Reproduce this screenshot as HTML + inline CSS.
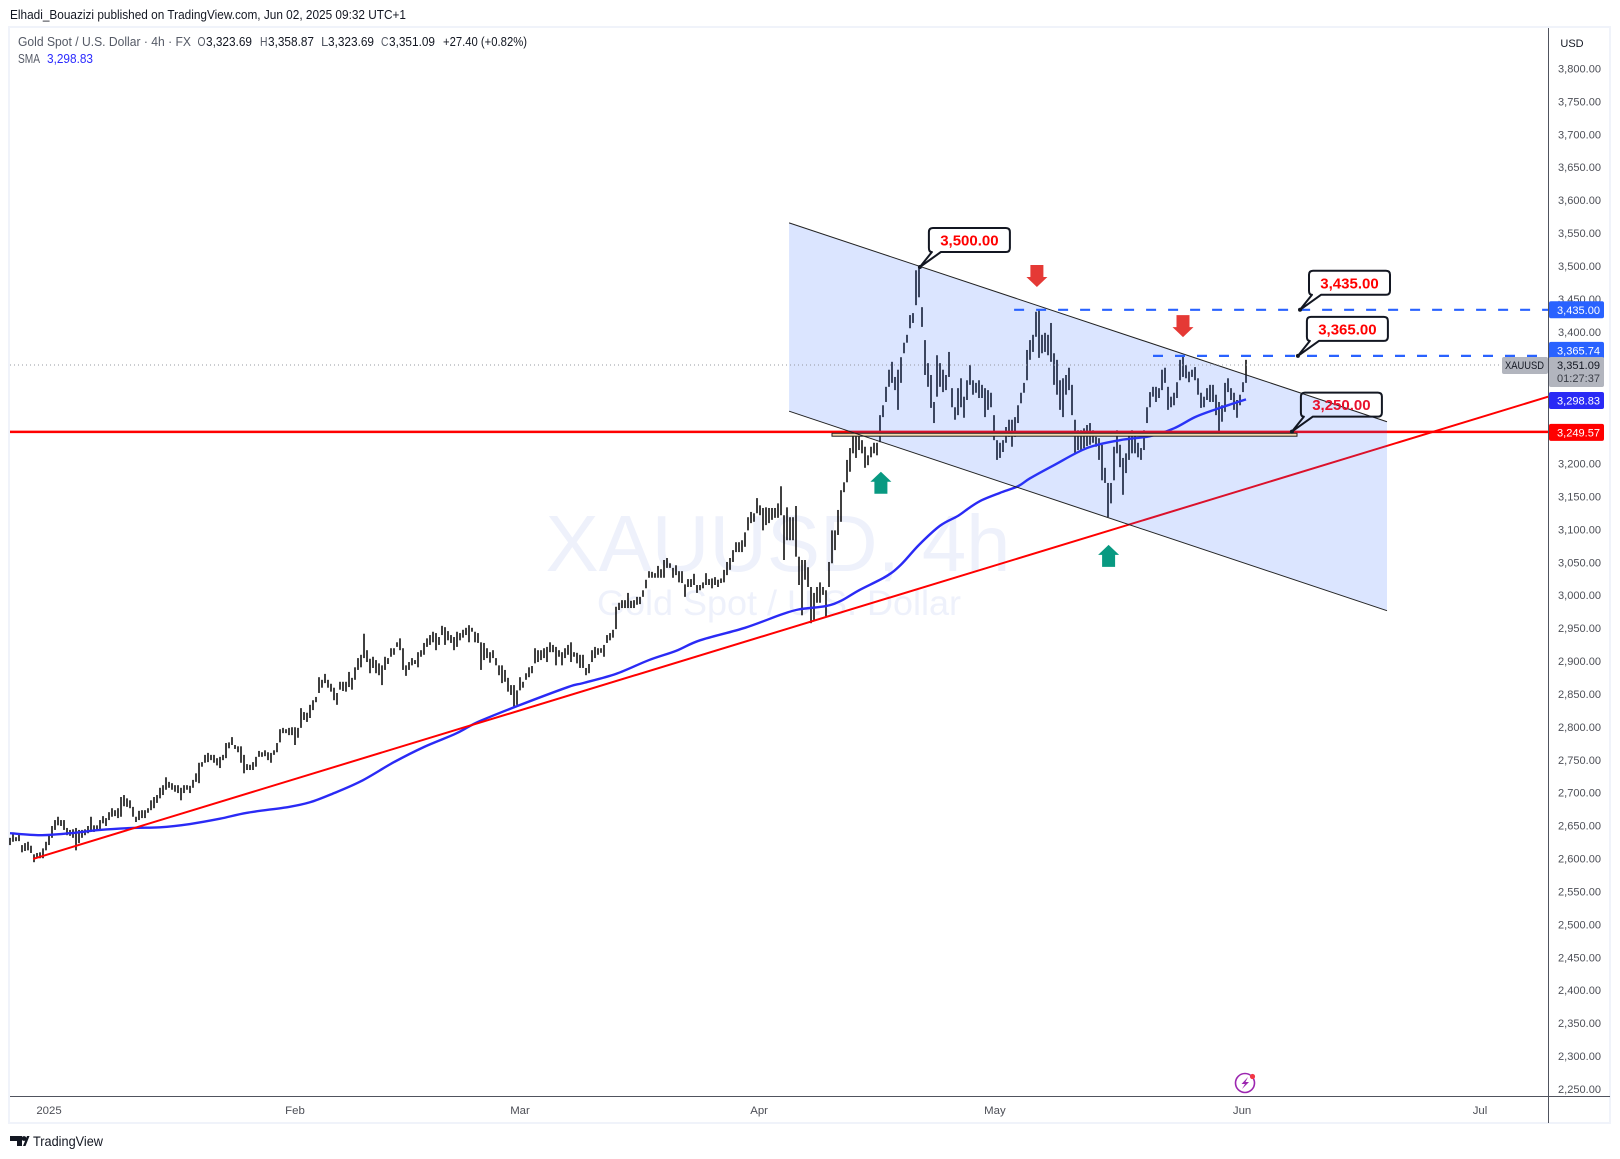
<!DOCTYPE html>
<html lang="en">
<head>
<meta charset="utf-8">
<title>XAUUSD 4h chart</title>
<style>
html,body{margin:0;padding:0;background:#fff;width:1620px;height:1159px;overflow:hidden}
svg{display:block;font-family:"Liberation Sans",Arial,sans-serif}
</style>
</head>
<body>
<svg id="chart" xmlns="http://www.w3.org/2000/svg" width="1620" height="1159" viewBox="0 0 1620 1159">
  <rect x="0" y="0" width="1620" height="1159" fill="#ffffff"/>
  <rect x="9" y="27" width="1601" height="1096" fill="#ffffff" stroke="#f0f3fa" stroke-width="2"/>
  <text x="10" y="19" font-size="13" fill="#131722" textLength="396" lengthAdjust="spacingAndGlyphs">Elhadi_Bouazizi published on TradingView.com, Jun 02, 2025 09:32 UTC+1</text>
  <text x="778" y="571" font-size="80" fill="#eef1fb" text-anchor="middle" textLength="465" lengthAdjust="spacingAndGlyphs">XAUUSD, 4h</text>
  <text x="779" y="615" font-size="35" fill="#eef1fb" text-anchor="middle" textLength="364" lengthAdjust="spacingAndGlyphs">Gold Spot / U.S. Dollar</text>
  <g id="bars"></g>
  <g id="overlays"></g>
  <g id="annotations"></g>
  <line x1="10" y1="1096.5" x2="1610" y2="1096.5" stroke="#50535e" stroke-width="1"/>
  <line x1="1548.5" y1="28" x2="1548.5" y2="1123" stroke="#50535e" stroke-width="1"/>
  <g id="axes"></g>
  <g id="tags"></g>
  <g font-size="13">
    <text x="18" y="46" fill="#555a66" textLength="173" lengthAdjust="spacingAndGlyphs">Gold Spot / U.S. Dollar · 4h · FX</text>
    <text x="197.5" y="46" fill="#555a66" textLength="8" lengthAdjust="spacingAndGlyphs">O</text>
    <text x="206" y="46" fill="#131722" textLength="46" lengthAdjust="spacingAndGlyphs">3,323.69</text>
    <text x="260" y="46" fill="#555a66" textLength="7.5" lengthAdjust="spacingAndGlyphs">H</text>
    <text x="268" y="46" fill="#131722" textLength="46" lengthAdjust="spacingAndGlyphs">3,358.87</text>
    <text x="321" y="46" fill="#555a66">L</text>
    <text x="328" y="46" fill="#131722" textLength="46" lengthAdjust="spacingAndGlyphs">3,323.69</text>
    <text x="381" y="46" fill="#555a66" textLength="7.5" lengthAdjust="spacingAndGlyphs">C</text>
    <text x="389" y="46" fill="#131722" textLength="46" lengthAdjust="spacingAndGlyphs">3,351.09</text>
    <text x="443" y="46" fill="#131722" textLength="84" lengthAdjust="spacingAndGlyphs">+27.40 (+0.82%)</text>
    <text x="18" y="63" fill="#555a66" textLength="22" lengthAdjust="spacingAndGlyphs">SMA</text>
    <text x="47" y="63" fill="#2a2aff" textLength="46" lengthAdjust="spacingAndGlyphs">3,298.83</text>
  </g>
  <text x="1572" y="47" font-size="11" fill="#131722" text-anchor="middle">USD</text>
  <g>
    <circle cx="1245" cy="1083" r="9.5" fill="none" stroke="#9c27b0" stroke-width="1.6"/>
    <polygon points="1248,1077 1241.5,1084 1245,1084 1242,1089 1249,1082 1245.5,1082" fill="#9c27b0"/>
    <circle cx="1252.5" cy="1076.5" r="2.6" fill="#f23645"/>
  </g>
  <g>
    <polygon points="10,1136 22,1136 22,1146 17,1146 17,1141 10,1141" fill="#131722"/>
    <circle cx="24" cy="1138.5" r="2.4" fill="#131722"/>
    <polygon points="23,1146 27,1136 29.5,1136 25.5,1146" fill="#131722"/>
    <text x="33" y="1146" font-size="14" fill="#131722" textLength="70" lengthAdjust="spacingAndGlyphs">TradingView</text>
  </g>
</svg>
<script>
const barHighs = [
2633,2639,2634,2639,2622,2625,2627,2621,2608,2610,2611,2617,2627,2636,2651,2660,2665,2660,2660,2648,
2645,2646,2648,2645,2645,2646,2651,2665,2652,2652,2660,2666,2663,2672,2678,2675,2678,2695,2698,2693,
2690,2680,2665,2674,2675,2675,2678,2690,2695,2698,2709,2713,2725,2718,2716,2713,2713,2709,2713,2713,
2712,2721,2731,2747,2748,2759,2762,2759,2759,2754,2756,2759,2777,2778,2786,2774,2772,2772,2759,2745,
2744,2748,2756,2765,2763,2766,2763,2762,2766,2777,2798,2800,2798,2800,2801,2801,2800,2830,2824,2823,
2835,2842,2847,2877,2873,2882,2873,2867,2861,2853,2870,2870,2870,2885,2876,2892,2906,2911,2943,2918,
2905,2908,2903,2898,2895,2908,2906,2921,2921,2930,2936,2921,2895,2900,2906,2903,2915,2918,2929,2936,
2941,2946,2944,2938,2955,2953,2947,2941,2938,2946,2944,2949,2952,2956,2952,2946,2944,2930,2929,2921,
2915,2918,2906,2895,2895,2888,2876,2865,2865,2857,2877,2870,2883,2892,2894,2921,2918,2918,2921,2923,
2930,2926,2923,2918,2915,2921,2926,2930,2915,2914,2911,2911,2891,2897,2918,2923,2921,2921,2926,2941,
2944,2949,2984,2990,2994,2994,3005,2993,2994,2999,2999,3009,3025,3038,3037,3035,3046,3041,3055,3058,
3050,3043,3047,3038,3038,3018,3026,3026,3034,3017,3017,3021,3035,3026,3027,3029,3025,3027,3040,3052,
3058,3070,3082,3082,3085,3097,3120,3128,3126,3149,3138,3134,3135,3134,3134,3134,3141,3167,3123,3135,
3120,3120,3137,3060,3055,3055,3044,3014,3005,3014,3021,3014,3009,3052,3100,3100,3131,3161,3173,3207,
3225,3248,3248,3245,3237,3227,3214,3227,3233,3233,3275,3290,3318,3344,3356,3333,3344,3363,3385,3397,
3427,3430,3495,3500,3439,3389,3354,3336,3295,3366,3354,3344,3336,3371,3316,3287,3316,3331,3303,3328,
3351,3328,3324,3328,3321,3316,3313,3309,3275,3237,3233,3237,3257,3268,3268,3272,3290,3309,3324,3374,
3389,3397,3432,3435,3397,3400,3397,3415,3369,3359,3328,3331,3336,3347,3321,3268,3252,3252,3255,3260,
3263,3252,3242,3240,3230,3195,3172,3172,3227,3252,3230,3210,3217,3245,3252,3245,3233,3225,3252,3287,
3310,3318,3318,3316,3344,3347,3318,3303,3309,3325,3359,3366,3351,3341,3344,3348,3331,3309,3303,3316,
3321,3321,3306,3295,3290,3324,3331,3316,3309,3298,3306,3325,3359
];
const barLows = [
2622,2627,2628,2628,2611,2613,2614,2610,2596,2602,2602,2602,2614,2622,2633,2645,2652,2651,2645,2637,
2636,2633,2614,2625,2633,2637,2640,2642,2642,2645,2645,2655,2651,2660,2665,2666,2663,2665,2681,2680,
2678,2665,2657,2660,2663,2663,2671,2675,2678,2686,2693,2698,2706,2709,2706,2703,2701,2690,2701,2706,
2701,2709,2718,2716,2741,2747,2748,2751,2747,2743,2739,2751,2754,2769,2774,2768,2763,2747,2731,2736,
2736,2736,2741,2756,2756,2757,2751,2747,2759,2763,2778,2792,2792,2789,2789,2774,2785,2800,2812,2809,
2815,2827,2839,2853,2861,2868,2861,2855,2842,2835,2858,2856,2855,2862,2858,2873,2888,2892,2906,2900,
2883,2891,2883,2880,2865,2888,2897,2908,2911,2923,2918,2888,2879,2888,2895,2897,2892,2908,2911,2923,
2926,2930,2918,2926,2941,2926,2933,2929,2918,2923,2933,2937,2941,2930,2946,2930,2929,2888,2903,2906,
2899,2906,2895,2880,2868,2870,2855,2850,2832,2835,2857,2861,2873,2877,2883,2898,2900,2903,2906,2900,
2915,2915,2895,2908,2895,2906,2911,2900,2908,2898,2891,2891,2880,2883,2900,2906,2911,2914,2908,2929,
2933,2937,2950,2979,2982,2982,2982,2982,2982,2987,2988,2999,3012,3028,3028,3028,3028,3028,3028,3043,
3043,3028,3032,3021,3020,2999,3014,3014,3017,3005,3009,3012,3017,3017,3012,3017,3014,3020,3021,3032,
3040,3052,3067,3067,3067,3075,3100,3111,3113,3126,3123,3100,3108,3111,3116,3119,3119,3123,3055,3085,
3085,3085,3060,3017,2971,3025,3014,2959,2964,2990,2990,3002,2968,3014,3050,3070,3093,3113,3158,3173,
3189,3217,3210,3222,3217,3195,3199,3211,3217,3214,3234,3272,3295,3318,3324,3313,3283,3324,3369,3385,
3407,3415,3442,3454,3409,3336,3318,3286,3263,3303,3318,3310,3313,3333,3287,3268,3275,3287,3271,3298,
3321,3306,3309,3301,3301,3272,3283,3287,3237,3207,3210,3219,3233,3242,3227,3242,3263,3293,3309,3328,
3359,3371,3394,3362,3369,3371,3366,3356,3321,3306,3283,3272,3306,3313,3275,3217,3222,3222,3225,3228,
3230,3233,3227,3207,3176,3172,3120,3141,3176,3217,3196,3154,3187,3207,3217,3217,3211,3207,3222,3263,
3287,3303,3295,3301,3313,3324,3283,3287,3290,3301,3328,3333,3331,3325,3333,3328,3306,3286,3287,3298,
3295,3295,3275,3245,3265,3280,3310,3298,3283,3271,3290,3310,3324
];
const smaBars = [0,10,20,30,41,50,60,70,79,93,100,107,117,128,138,148,153,157,169,186,191,202,213,222,230,245,257,263,272,277,283,292,297,303,310,316,320,324,330,336,340,348,359,370,380,388,395,402,408,412];
const smaValues = [2640,2637,2640,2645,2648,2649,2654,2662,2671,2680,2687,2699,2719,2748,2771,2790,2802,2811,2833,2862,2868,2882,2903,2917,2933,2952,2972,2980,2985,2993,3009,3030,3048,3078,3107,3122,3135,3146,3157,3167,3179,3199,3225,3237,3243,3255,3272,3284,3293,3299];
const priceTicks = [3800,3750,3700,3650,3600,3550,3500,3450,3400,3350,3300,3250,3200,3150,3100,3050,3000,2950,2900,2850,2800,2750,2700,2650,2600,2550,2500,2450,2400,2350,2300,2250];
const monthLabels = ['2025','Feb','Mar','Apr','May','Jun','Jul'];
const monthBars = [13,95,170,249.7,328.3,410.7,490];
const channelBars = [259.7,459];
const channelUpper = [3567,3265];
const channelLower = [3281,2978];
const trendBars = [7.7,512.7];
const trendPrices = [2601,3303];
const supportPrice = 3249.57;
const currentPrice = 3351.09;
const dashedPrices = [3435,3365];
const dashedStartBars = [334.7,381];
const zoneBars = [274,429];
const zonePrices = [3247.5,3243];
const calloutPrices = [3500,3435,3365,3250];
const calloutBars = [303.3,430,429.3,427.3];
const downArrowBars = [342.3,391];
const downArrowPrices = [3503,3427];
const upArrowBars = [290.3,366.2];
const upArrowPrices = [3189,3078];
const tagPrices = [3435,3365.74,3298.83,3249.57];

const NS = 'http://www.w3.org/2000/svg';
function xOf(bar){ return 10 + 3*bar; }
function yOf(price){ return 267 + (3500-price)*0.6584; }
function fmt(v){ return v.toFixed(2).replace(/\B(?=(\d{3})+(?!\d))/,','); }
function make(parent, tag, attrs, text){
  const el = document.createElementNS(NS, tag);
  for (const k in attrs) el.setAttribute(k, attrs[k]);
  if (text !== undefined) el.textContent = text;
  parent.appendChild(el);
  return el;
}
function smoothPath(pts){
  let d = 'M' + pts[0][0] + ',' + pts[0][1];
  for (let i = 0; i < pts.length-1; i++){
    const p0 = pts[Math.max(i-1,0)], p1 = pts[i], p2 = pts[i+1], p3 = pts[Math.min(i+2,pts.length-1)];
    const c1x = p1[0]+(p2[0]-p0[0])/6, c1y = p1[1]+(p2[1]-p0[1])/6;
    const c2x = p2[0]-(p3[0]-p1[0])/6, c2y = p2[1]-(p3[1]-p1[1])/6;
    d += ' C' + c1x + ',' + c1y + ' ' + c2x + ',' + c2y + ' ' + p2[0] + ',' + p2[1];
  }
  return d;
}
const barsG = document.getElementById('bars');
const overlays = document.getElementById('overlays');
const annotations = document.getElementById('annotations');
const axes = document.getElementById('axes');
const tags = document.getElementById('tags');

barHighs.forEach(function(h,i){
  const el = make(barsG,'line',{x1:xOf(i),x2:xOf(i),y1:yOf(h),y2:yOf(barLows[i]),stroke:'#000','stroke-width':1.5});
  
  
});

const smaLine = make(overlays,'path',{d:smoothPath(smaBars.map(function(b,i){return [xOf(b),yOf(smaValues[i])];})),fill:'none',stroke:'#2a2af5','stroke-width':2.4,'stroke-linejoin':'round'});



const trend = make(overlays,'line',{x1:xOf(trendBars[0]),y1:yOf(trendPrices[0]),x2:xOf(trendBars[1]),y2:yOf(trendPrices[1]),stroke:'#ff0000','stroke-width':2});



const support = make(overlays,'line',{x1:10,x2:1548,y1:yOf(supportPrice),y2:yOf(supportPrice),stroke:'#ff0000','stroke-width':2.4});



const chanPts = [[channelBars[0],channelUpper[0]],[channelBars[1],channelUpper[1]],[channelBars[1],channelLower[1]],[channelBars[0],channelLower[0]]];
const chan = make(overlays,'polygon',{points:chanPts.map(function(p){return xOf(p[0])+','+yOf(p[1]);}).join(' '),fill:'rgba(41,98,255,0.17)'});



const zone = make(overlays,'rect',{x:xOf(zoneBars[0]),y:yOf(zonePrices[0]),width:xOf(zoneBars[1])-xOf(zoneBars[0]),height:yOf(zonePrices[1])-yOf(zonePrices[0]),fill:'#f5d9ae',stroke:'#222','stroke-width':1});



const chanTop = make(overlays,'line',{x1:xOf(channelBars[0]),y1:yOf(channelUpper[0]),x2:xOf(channelBars[1]),y2:yOf(channelUpper[1]),stroke:'#222','stroke-width':1});



const chanBot = make(overlays,'line',{x1:xOf(channelBars[0]),y1:yOf(channelLower[0]),x2:xOf(channelBars[1]),y2:yOf(channelLower[1]),stroke:'#222','stroke-width':1});



const dotted = make(overlays,'line',{x1:10,x2:1502,y1:yOf(currentPrice),y2:yOf(currentPrice),stroke:'#9598a1','stroke-width':1,'stroke-dasharray':'1 3'});



dashedPrices.forEach(function(p,i){
  const el = make(overlays,'line',{x1:xOf(dashedStartBars[i]),x2:1548,y1:yOf(p),y2:yOf(p),stroke:'#2962ff','stroke-width':2.2,'stroke-dasharray':'10 12'});
  
  
});

downArrowBars.forEach(function(b,i){
  const x = xOf(b), y = yOf(downArrowPrices[i]);
  const el = make(annotations,'polygon',{points:[[x-6.5,y],[x+6.5,y],[x+6.5,y+12],[x+10.5,y+12],[x,y+22],[x-10.5,y+12],[x-6.5,y+12]].map(function(p){return p.join(',');}).join(' '),fill:'#e53935'});
  
  
});
upArrowBars.forEach(function(b,i){
  const x = xOf(b), y = yOf(upArrowPrices[i]);
  const el = make(annotations,'polygon',{points:[[x,y],[x+10.5,y+10],[x+6.5,y+10],[x+6.5,y+22],[x-6.5,y+22],[x-6.5,y+10],[x-10.5,y+10]].map(function(p){return p.join(',');}).join(' '),fill:'#089981'});
  
  
});

calloutPrices.forEach(function(p,i){
  const ax = xOf(calloutBars[i]), ay = yOf(p);
  const l = ax+9, r = ax+90, t = ay-39, b = ay-15, rad = 4;
  const d = 'M'+(l+rad)+','+t+' H'+(r-rad)+' Q'+r+','+t+' '+r+','+(t+rad)+' V'+(b-rad)+' Q'+r+','+b+' '+(r-rad)+','+b+' H'+(l+12)+' L'+ax+','+ay+' L'+(l+3)+','+b+' Q'+l+','+b+' '+l+','+(b-rad)+' V'+(t+rad)+' Q'+l+','+t+' '+(l+rad)+','+t+' Z';
  const box = make(annotations,'path',{d:d,fill:p===3250?'none':'#ffffff',stroke:'#131722','stroke-width':2,'stroke-linejoin':'round'});
  
  
  const dot = make(annotations,'circle',{cx:ax,cy:ay,r:2,fill:'#131722'});
  
  
  const txt = make(annotations,'text',{x:(l+r)/2,y:(t+b)/2+5.5,'font-size':15,'font-weight':'bold',fill:p===3250?'#e8112d':'#ff0000','text-anchor':'middle'},fmt(p));
  
  
});

priceTicks.forEach(function(p){
  const el = make(axes,'text',{x:1558,y:yOf(p)+3,'font-size':11,fill:'#4d4f57',textLength:43,lengthAdjust:'spacingAndGlyphs'},fmt(p));
  
  
});
monthLabels.forEach(function(m,i){
  const el = make(axes,'text',{x:xOf(monthBars[i]),y:1114,'font-size':11.4,fill:'#4d4f57','text-anchor':'middle'},m);
  
  
});

const tagFills = ['#2962ff','#2962ff','#2a2af5','#ff0000'];
const tagNudges = [0,-5,1,0.5];
tagPrices.forEach(function(p,i){
  const cy = yOf(p)+tagNudges[i];
  const box = make(tags,'rect',{x:1549,y:cy-8.5,width:55,height:17,rx:2,fill:tagFills[i]});
  
  
  const t = make(tags,'text',{x:1557,y:cy+4,'font-size':11,fill:'#ffffff',textLength:43,lengthAdjust:'spacingAndGlyphs'},fmt(p));
  
  
});

const curBox = make(tags,'rect',{x:1549,y:yOf(currentPrice)-8,width:55,height:30,rx:2,fill:'#b2b5be'});


const curText = make(tags,'text',{x:1557,y:yOf(currentPrice)+4,'font-size':11,fill:'#131722',textLength:43,lengthAdjust:'spacingAndGlyphs'},fmt(currentPrice));


const countdown = make(tags,'text',{x:1557,y:yOf(currentPrice)+17,'font-size':11,fill:'#3a3d46',textLength:43,lengthAdjust:'spacingAndGlyphs'},'01:27:37');


const symBox = make(tags,'rect',{x:1502,y:yOf(currentPrice)-8,width:46,height:17,rx:2,fill:'#b2b5be'});


const symText = make(tags,'text',{x:1505,y:yOf(currentPrice)+4,'font-size':11,fill:'#131722',textLength:39,lengthAdjust:'spacingAndGlyphs'},'XAUUSD');


</script>
</body>
</html>
